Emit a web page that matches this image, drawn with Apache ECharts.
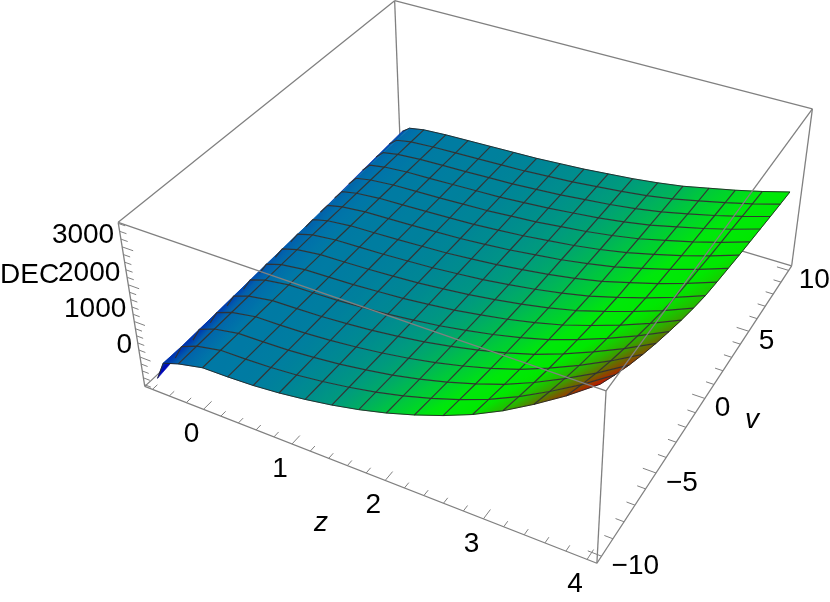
<!DOCTYPE html>
<html><head><meta charset="utf-8">
<style>html,body{margin:0;padding:0;background:#fff}#c{width:830px;height:602px}</style>
<script src="https://cdn.jsdelivr.net/npm/echarts@6/dist/echarts.min.js"></script>
</head><body><div id="c"></div>
<script>
// ---- data ----
const zSamples = [-0.6,-0.5,-0.3125,-0.025,0.2625,0.55,0.8375,1.125,1.4125,1.7,1.9875,2.275,2.5625,2.85,3.1375,3.425,3.7125,4];
const vSamples = [-10,-8.75,-7.5,-6.25,-5,-3.75,-2.5,-1.25,0,1.25,2.5,3.75,5,6.25,7.5,8.75,10];
// DEC[row of zSamples][column of vSamples]
const DEC = [
[-689,-590,-554,-518,-483,-447,-411,-375,-344,-312,-281,-250,-218,-187,-160,-133,-111],
[-156,-166,-148,-130,-108,-85,-63,-45,-27,-14,4,18,31,45,48,52,56],
[-1,15,29,42,53,65,76,86,95,100,106,111,116,121,126,131,136],
[158,161,163,165,167,169,170,172,173,174,175,176,177,178,178,179,180],
[171,175,178,181,184,186,189,191,193,195,196,197,198,199,201,202,203],
[203,206,208,210,212,214,215,217,218,219,220,221,222,223,223,224,225],
[270,267,265,263,261,259,258,256,255,254,253,252,251,250,250,249,248],
[369,356,344,334,324,316,308,301,295,291,288,284,281,278,275,273,270],
[494,471,449,430,413,398,384,371,361,353,347,341,336,330,325,320,315],
[651,613,578,548,520,495,472,452,434,423,412,402,393,385,376,368,360],
[843,789,739,695,656,620,587,558,533,516,502,487,475,462,450,438,427],
[1076,1000,931,869,814,765,718,677,642,619,599,578,561,543,526,510,494],
[1345,1246,1155,1075,1003,938,877,824,778,748,721,694,672,649,626,605,584],
[1659,1534,1418,1317,1226,1144,1067,999,942,903,869,836,807,778,749,722,696],
[2040,1886,1743,1618,1505,1404,1309,1226,1155,1107,1066,1024,989,953,917,884,852],
[2488,2296,2118,1963,1822,1697,1578,1475,1386,1327,1275,1223,1179,1135,1090,1049,1009],
[2980,2747,2532,2344,2174,2021,1878,1752,1645,1573,1511,1448,1394,1340,1287,1236,1188],
[3540,3260,3002,2777,2572,2390,2218,2067,1938,1852,1777,1702,1637,1573,1508,1448,1390]
];
const zTicks = [-0.6,-0.4,-0.2,0,0.2,0.4,0.6,0.8,1,1.2,1.4,1.6,1.8,2,2.2,2.4,2.6,2.8,3,3.2,3.4,3.6,3.8,4];
const vTicks = [-10,-9,-8,-7,-6,-5,-4,-3,-2,-1,0,1,2,3,4,5,6,7,8,9,10];
const decTicks = [-800,-600,-400,-200,0,200,400,600,800,1000,1200,1400,1600,1800,2000,2200,2400,2600,2800,3000,3200,3400,3600];
const zLabels = [[0,'0'],[1,'1'],[2,'2'],[3,'3'],[4,'4']];
const vLabels = [[-10,'−10'],[-5,'−5'],[0,'0'],[5,'5'],[10,'10']];
const decLabels = [[0,'0'],[1000,'1000'],[2000,'2000'],[3000,'3000']];
const axisNames = [['DEC',0,275,'normal'],['z',321,523,'italic'],['v',752,420,'italic']];
// plot range of the box
const zRange = [-0.692,4.092], vRange = [-10.4,10.4], decRange = [-850,3630];

// ---- camera: box corners as seen in the picture, [x,y,h] cube -> screen ----
const camera = [
 [0,0,0,144,386],[1,0,0,596.5,563],[1,1,0,792,265],[0,1,0,401,150],
 [0,0,1,119,222],[1,0,1,606.5,392],[1,1,1,812,109],[0,1,1,394,0]
];
function solveCamera(pts){
  const A=[],b=[];
  pts.forEach(([x,y,h,u,w])=>{
    A.push([x,y,h,1,0,0,0,0,-u*x,-u*y,-u*h]);b.push(u);
    A.push([0,0,0,0,x,y,h,1,-w*x,-w*y,-w*h]);b.push(w);
  });
  const n=11,M=[];
  for(let i=0;i<n;i++){M.push([]);for(let j=0;j<n;j++){let s=0;A.forEach(r=>s+=r[i]*r[j]);M[i].push(s);}
    let s=0;A.forEach((r,k)=>s+=r[i]*b[k]);M[i].push(s);}
  for(let c=0;c<n;c++){let p=c;for(let r=c+1;r<n;r++)if(Math.abs(M[r][c])>Math.abs(M[p][c]))p=r;
    [M[c],M[p]]=[M[p],M[c]];
    for(let r=0;r<n;r++)if(r!==c){const f=M[r][c]/M[c][c];for(let k=c;k<=n;k++)M[r][k]-=f*M[c][k];}}
  return M.map((r,i)=>r[n]/r[i]);
}
const C=solveCamera(camera);
function cube(x,y,h){const t=C[8]*x+C[9]*y+C[10]*h+1;
  return [(C[0]*x+C[1]*y+C[2]*h+C[3])/t,(C[4]*x+C[5]*y+C[6]*h+C[7])/t];}
const nz=z=>(z-zRange[0])/(zRange[1]-zRange[0]), nv=v=>(v-vRange[0])/(vRange[1]-vRange[0]), nd=d=>(d-decRange[0])/(decRange[1]-decRange[0]);
const P=(z,v,d)=>cube(nz(z),nv(v),nd(d));

// ---- colour by height ----
const heightColors=[[0,0,0,190],[.1,0,15,178],[.16,0,55,175],[.185,2,95,172],[.22,0,118,168],[.3,0,155,125],[.38,0,200,60],[.46,0,232,10],[.55,0,232,0],[.65,40,180,0],[.75,100,110,0],[.85,150,60,0],[1,205,10,0]];
function colorAt(d){const h=nd(d);let i=0;while(i<heightColors.length-2&&h>heightColors[i+1][0])i++;
  const a=heightColors[i],b=heightColors[i+1],t=Math.max(0,Math.min(1,(h-a[0])/(b[0]-a[0])));
  return `rgb(${[1,2,3].map(k=>Math.round(a[k]+(b[k]-a[k])*t)).join(',')})`;}

const cells=[];
for(let i=0;i<zSamples.length-1;i++)for(let j=vSamples.length-2;j>=0;j--)cells.push([i,j]);

const chart=echarts.init(document.getElementById('c'),null,{renderer:'canvas'});
function one(z,render){return {type:'custom',coordinateSystem:'cartesian2d',z,silent:true,clip:false,animation:false,data:[[0,0]],renderItem:(p,api)=>render(api)};}
const px=(api,pt)=>api.coord(pt);
function line(api,pts,stroke,w){return {type:'polyline',shape:{points:pts.map(q=>px(api,q))},style:{stroke,lineWidth:w,fill:null,lineJoin:'round'}};}
const boxCol='#808080',BW=1.3;
const meshCol='rgba(50,50,50,0.95)',MW=1.2;
const corner=(a,b,c)=>cube(a,b,c);
function backBox(api){return {type:'group',children:[
  [[0,0,0],[0,1,0]],[[0,1,0],[1,1,0]],[[0,1,0],[0,1,1]],[[0,1,1],[1,1,1]],[[0,1,1],[0,0,1]]
 ].map(e=>line(api,e.map(q=>corner(...q)),boxCol,BW))};}
function frontBox(api){return {type:'group',children:[
  [[0,0,0],[1,0,0]],[[1,0,0],[1,1,0]],[[0,0,0],[0,0,1]],[[1,0,0],[1,0,1]],[[1,1,0],[1,1,1]],[[0,0,1],[1,0,1]],[[1,0,1],[1,1,1]]
 ].map(e=>line(api,e.map(q=>corner(...q)),boxCol,BW))};}
function meshLines(api){const ch=[];
  zSamples.forEach((z,i)=>{ if(i<2||i===zSamples.length-1)return;
    ch.push(line(api,vSamples.map((v,j)=>P(z,v,DEC[i][j])),meshCol,MW));});
  vSamples.forEach((v,j)=>{ if(j===0||j===vSamples.length-1)return;
    ch.push(line(api,zSamples.map((z,i)=>P(z,v,DEC[i][j])),meshCol,MW));});
  const last=zSamples.length-1;
  ch.push(line(api,vSamples.map((v,j)=>P(zSamples[last],v,DEC[last][j])),'#222',0.9));
  ch.push(line(api,zSamples.map((z,i)=>P(z,vSamples[0],DEC[i][0])),'#222',0.9));
  ch.push(line(api,zSamples.map((z,i)=>P(z,vSamples[vSamples.length-1],DEC[i][vSamples.length-1])),'#222',0.9));
  return {type:'group',children:ch};}
function tickLines(api){const ch=[];
  zTicks.forEach(t=>{const big=Number.isInteger(t);const a=[nz(t),0,0];ch.push(line(api,[cube(...a),cube(a[0],big?0.027:0.016,0)],boxCol,1));});
  vTicks.forEach(t=>{const big=t%5===0;const a=[1,nv(t),0];ch.push(line(api,[cube(...a),cube(1-(big?0.027:0.017),a[1],0)],boxCol,1));});
  decTicks.forEach(t=>{const big=t%1000===0;const a=[0,0,nd(t)];ch.push(line(api,[cube(...a),cube(big?0.026:0.016,0,a[2])],boxCol,1));});
  return {type:'group',children:ch};}
const FONT='"Liberation Sans",Arial,sans-serif', FS=28;
function txt(api,x,y,text,align,style){const c=api.coord([x,y]);
  return {type:'text',style:{x:c[0],y:c[1],text,fontFamily:FONT,fontSize:FS,fontStyle:style||'normal',fill:'#000',align:align,verticalAlign:'middle'}};}
function labels(api){const ch=[];
  zLabels.forEach(([t,s])=>{const q=P(t,vRange[0],decRange[0]);ch.push(txt(api,q[0]-12,q[1]+25,s,'center'));});
  vLabels.forEach(([t,s])=>{const q=P(zRange[1],t,decRange[0]);ch.push(txt(api,q[0]+10,q[1]+10,s,'left'));});
  decLabels.forEach(([t,s])=>{const q=P(zRange[0],vRange[0],t);ch.push(txt(api,q[0]-8,q[1]-12,s,'right'));});
  axisNames.forEach(([s,x,y,st])=>ch.push(txt(api,x,y,s,st==='normal'?'left':'center',st)));
  return {type:'group',children:ch};}

function renderCell(params,api){
  const i=api.value(0),j=api.value(1);
  const id=[[i,j],[i+1,j],[i+1,j+1],[i,j+1]];
  const vals=id.map(([a,b])=>DEC[a][b]);
  const pts=id.map(([a,b])=>px(api,P(zSamples[a],vSamples[b],DEC[a][b])));
  const d1=[pts[2][0]-pts[0][0],pts[2][1]-pts[0][1]],d2=[pts[3][0]-pts[1][0],pts[3][1]-pts[1][1]];
  const f1=vals[2]-vals[0],f2=vals[3]-vals[1];
  const det=d1[0]*d2[1]-d1[1]*d2[0]||1;
  let gx=(f1*d2[1]-f2*d1[1])/det,gy=(d1[0]*f2-d2[0]*f1)/det;
  const g2=gx*gx+gy*gy||1;
  const cx=(pts[0][0]+pts[1][0]+pts[2][0]+pts[3][0])/4,cy=(pts[0][1]+pts[1][1]+pts[2][1]+pts[3][1])/4,mean=(vals[0]+vals[1]+vals[2]+vals[3])/4;
  const lo=Math.min(...vals),hi=Math.max(...vals);
  const at=d=>[cx+gx*(d-mean)/g2,cy+gy*(d-mean)/g2];
  const a=at(lo),b=at(hi);
  const stops=[];for(let n=0;n<=4;n++){stops.push({offset:n/4,color:colorAt(lo+(hi-lo)*n/4)});}
  const fill=hi-lo<1?colorAt(lo):{type:'linear',x:a[0],y:a[1],x2:b[0],y2:b[1],global:true,colorStops:stops};
  return {type:'polygon',shape:{points:pts},style:{fill,stroke:fill,lineWidth:0.6,lineJoin:'round'}};
}

chart.setOption({
  animation:false,
  grid:{left:0,right:0,top:0,bottom:0},
  xAxis:{type:'value',min:0,max:830,show:false},
  yAxis:{type:'value',min:0,max:602,inverse:true,show:false},
  series:[
    one(1,backBox),
    {type:'custom',coordinateSystem:'cartesian2d',z:2,silent:true,clip:false,animation:false,data:cells,renderItem:renderCell},
    one(3,meshLines),
    one(4,frontBox),
    one(5,tickLines),
    one(6,labels)
  ]
});
</script></body></html>
